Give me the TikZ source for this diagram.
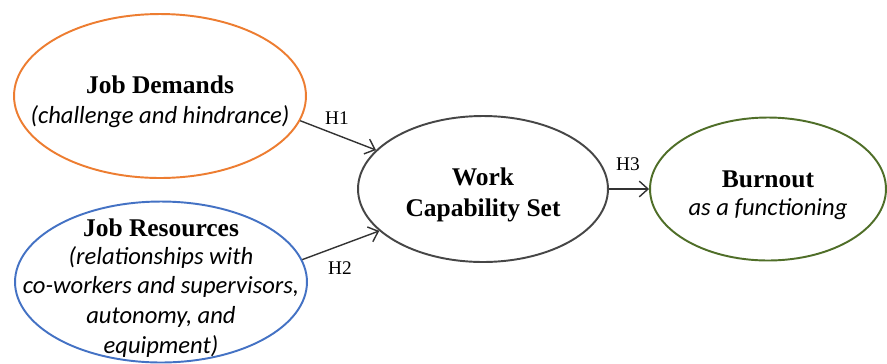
\documentclass[tikz,border=0pt]{standalone}
\usepackage{fontspec}
\setmainfont{Liberation Serif}
\newfontfamily\descfont{Carlito}
\usepackage{xcolor}
\usetikzlibrary{shapes.geometric}
\usetikzlibrary{arrows.meta}
\definecolor{demandorange}{RGB}{237,125,49}
\definecolor{resourceblue}{RGB}{68,114,196}
\definecolor{burnoutgreen}{RGB}{79,110,40}
\definecolor{capgray}{RGB}{70,70,70}
\newcommand{\headfont}{\fontsize{14.5}{16}\selectfont\bfseries}
\newcommand{\noteshape}{\fontsize{14}{16}\selectfont\descfont\mdseries\itshape}
\tikzset{
  construct/.style={ellipse, draw, line width=1.1pt, fill=white, inner sep=0pt},
  title/.style={align=center, font=\headfont, yshift=-0.12cm},
  hyp/.style={font=\fontsize{11}{13}\selectfont},
  effect/.style={-{Straight Barb[length=5pt,width=9pt]}, line width=0.8pt, black!80},
}

\begin{document}
\begin{tikzpicture}[x=0.02cm, y=-0.02cm]

  \useasboundingbox (0,0) rectangle (887,363);

  % Define nodes
  \node[construct, draw=demandorange, minimum width=5.84cm, minimum height=3.28cm] (jd) at (160,96) {};
  \node[construct, draw=resourceblue, minimum width=5.84cm, minimum height=3.22cm] (jr) at (161,282) {};
  \node[construct, draw=capgray, minimum width=5.0cm, minimum height=2.92cm] (wcs) at (483,189) {};
  \node[construct, draw=burnoutgreen, minimum width=4.72cm, minimum height=2.86cm] (bo) at (768,189) {};

  % Texts
  \node[title] (jdtext) at (jd) {Job Demands\\[1pt] \noteshape (challenge and hindrance)};
  \node[title] (jrtext) at (jr) {Job Resources\\[0pt] \noteshape (relationships with\\[1pt] \noteshape co-workers and supervisors,\\[1pt] \noteshape autonomy, and\\[1pt] \noteshape equipment)};
  \node[title] (wcstext) at (wcs) {Work\\[2pt] Capability Set};
  \node[title] (botext) at (bo) {Burnout\\[0pt] \noteshape as a functioning};

  % Connect nodes
  \draw[effect] (jd.-10) -- (wcs.160);
  \draw[effect] (jr.9) -- (wcs.202);
  \draw[effect] (wcs.east) -- (bo.west);

  % Hypotheses
  \node[hyp] (h1) at (337,118) {H1};
  \node[hyp] (h2) at (340,268) {H2};
  \node[hyp] (h3) at (628,164) {H3};

\end{tikzpicture}
\end{document}
